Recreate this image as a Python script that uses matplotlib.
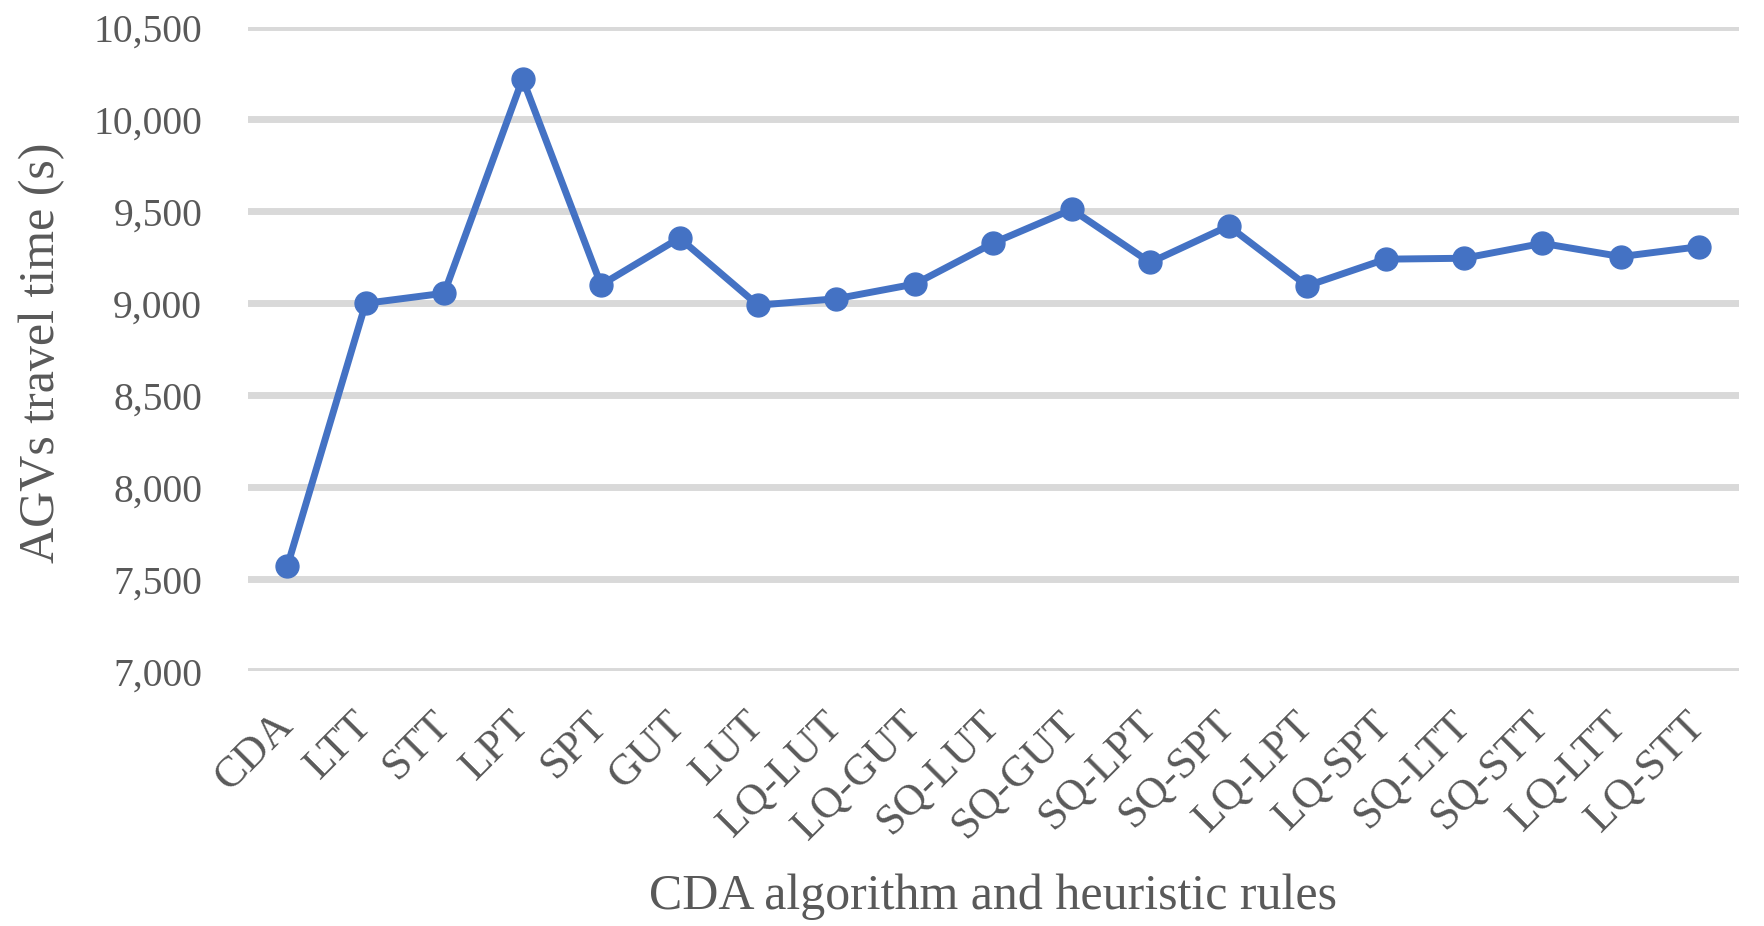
import matplotlib
matplotlib.use("Agg")
import matplotlib.pyplot as plt
from matplotlib.ticker import FuncFormatter
from matplotlib.transforms import ScaledTranslation

rules = ["CDA", "LTT", "STT", "LPT", "SPT", "GUT", "LUT", "LQ-LUT", "LQ-GUT", "SQ-LUT",
         "SQ-GUT", "SQ-LPT", "SQ-SPT", "LQ-LPT", "LQ-SPT", "SQ-LTT", "SQ-STT", "LQ-LTT", "LQ-STT"]
travel_time = [7570, 9000, 9055, 10220, 9100, 9355, 8990, 9025, 9105, 9328,
               9510, 9222, 9420, 9095, 9240, 9245, 9326, 9254, 9308]
y_ticks = [7000, 7500, 8000, 8500, 9000, 9500, 10000, 10500]

text_color = "#595959"
line_color = "#4472C4"
plt.rcParams["font.family"] = ["Liberation Serif", "DejaVu Serif"]

fig = plt.figure(figsize=(17.64, 9.26), dpi=100)
ax = fig.add_axes([0.1406, 0.275, 0.845, 0.6955])

x = list(range(len(rules)))
ax.plot(x, travel_time, color=line_color, linewidth=5, marker="o", markersize=16.5,
        zorder=3, clip_on=False)

ax.set_xlim(-0.5, len(rules) - 0.5)
ax.set_ylim(y_ticks[0], y_ticks[-1])
ax.set_yticks(y_ticks)
ax.yaxis.set_major_formatter(FuncFormatter(lambda v, p: f"{int(v):,}"))
ax.set_xticks(x)
ax.set_xticklabels(rules, rotation=45, ha="right", va="center", rotation_mode="anchor",
                   fontsize=31.5)
# nudge the rotated labels a little to the right
shift = ScaledTranslation(0.06, 0, fig.dpi_scale_trans)
for lbl in ax.get_xticklabels():
    lbl.set_transform(lbl.get_transform() + shift)

# grid only, no frame or tick marks
ax.grid(axis="y", color="#D9D9D9", linewidth=5, zorder=0)
ax.set_axisbelow(True)
for s in ax.spines.values():
    s.set_visible(False)
ax.tick_params(axis="both", length=0, colors=text_color)
ax.tick_params(axis="y", pad=33, labelsize=28.5)
ax.tick_params(axis="x", pad=34)

ax.set_ylabel("AGVs travel time (s)", fontsize=36, color=text_color, va="center")
ax.yaxis.set_label_coords(-0.138, 0.495)
ax.set_xlabel("CDA algorithm and heuristic rules", fontsize=36, color=text_color, va="center")
ax.xaxis.set_label_coords(0.5, -0.35)

fig.savefig("out.png", dpi=100)
